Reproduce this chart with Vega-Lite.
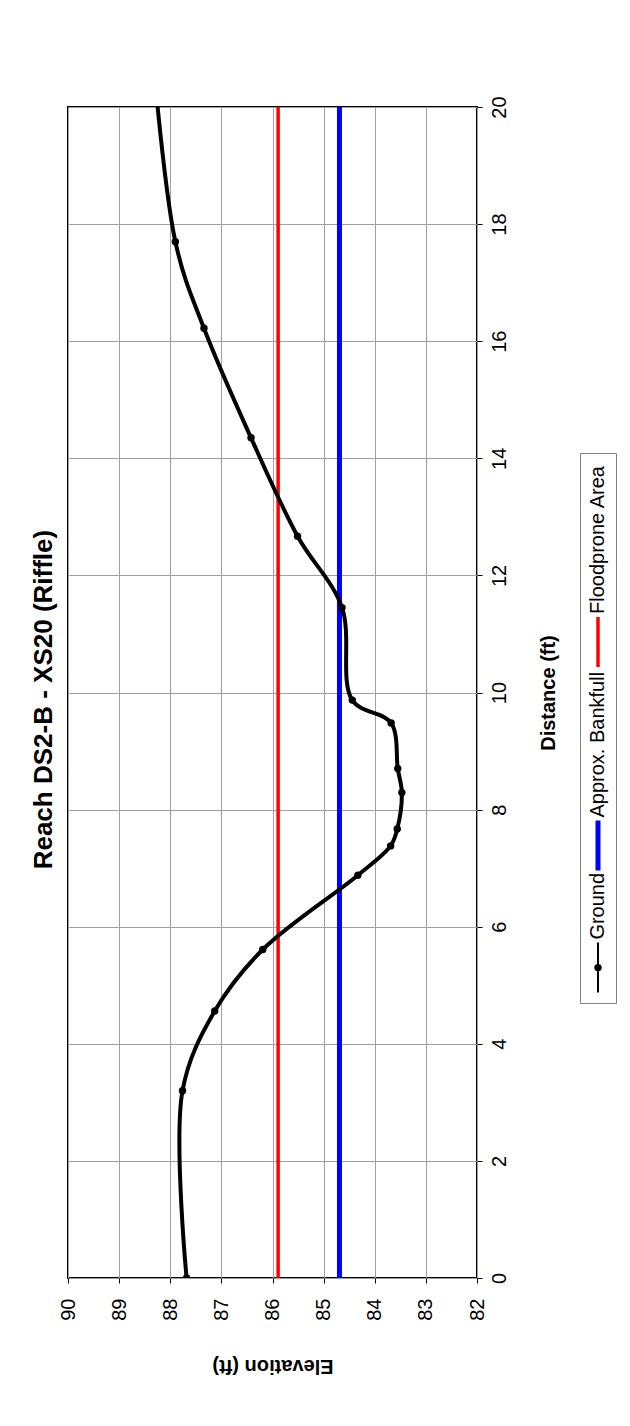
{
  "$schema": "https://vega.github.io/schema/vega-lite/v6.json",
  "background": "white",
  "autosize": {"type": "none"},
  "padding": {"left": 68, "top": 107, "right": 562, "bottom": 1319},
  "title": {"text": "Reach DS2-B - XS20 (Riffle)", "orient": "left", "anchor": "middle", "frame": "bounds", "fontSize": 26, "font": "Liberation Sans", "fontWeight": "bold", "color": "black", "offset": -26, "baseline": "bottom", "dx": 36},
  "config": {
    "font": "Liberation Sans",
    "axis": {"labelFont": "Liberation Sans", "labelFontSize": 20, "labelColor": "black", "titleFont": "Liberation Sans", "titleFontSize": 20, "titleFontWeight": "bold", "titleColor": "black", "gridColor": "#a0a0a0", "gridWidth": 1, "tickColor": "black", "tickSize": 5, "tickWidth": 1, "domain": false, "labelOverlap": false}
  },
  "datasets": {
    "ground": [
      {"dist": 0, "elev": 87.68},
      {"dist": 3.2, "elev": 87.76},
      {"dist": 4.56, "elev": 87.13},
      {"dist": 5.61, "elev": 86.19},
      {"dist": 6.88, "elev": 84.33},
      {"dist": 7.38, "elev": 83.69},
      {"dist": 7.67, "elev": 83.56},
      {"dist": 8.29, "elev": 83.47},
      {"dist": 8.7, "elev": 83.55},
      {"dist": 9.48, "elev": 83.68},
      {"dist": 9.87, "elev": 84.44},
      {"dist": 11.45, "elev": 84.64},
      {"dist": 12.67, "elev": 85.51},
      {"dist": 14.35, "elev": 86.42},
      {"dist": 16.22, "elev": 87.34},
      {"dist": 17.7, "elev": 87.9},
      {"dist": 22.5, "elev": 88.5}
    ],
    "levels": [
      {"series": "Approx. Bankfull", "elev": 84.69},
      {"series": "Floodprone Area", "elev": 85.89}
    ],
    "legend": [
      {"series": "Ground"},
      {"series": "Approx. Bankfull"},
      {"series": "Floodprone Area"}
    ]
  },
  "spacing": 20,
  "hconcat": [
    {
      "width": 409,
      "height": 1171,
      "view": {"stroke": "black", "strokeWidth": 2},
      "encoding": {
        "x": {"field": "elev", "type": "quantitative", "scale": {"domain": [82, 90], "reverse": true, "nice": false, "zero": false},
              "axis": {"orient": "bottom", "values": [82, 83, 84, 85, 86, 87, 88, 89, 90], "labelAngle": 270, "labelPadding": 15, "title": "Elevation (ft)", "titleAngle": 180, "titleBaseline": "bottom", "titlePadding": 35}}
      },
      "layer": [
        {
          "data": {"name": "levels"},
          "mark": {"type": "rule"},
          "encoding": {
            "color": {"field": "series", "type": "nominal", "scale": {"domain": ["Ground", "Approx. Bankfull", "Floodprone Area"], "range": ["black", "#0000ff", "#ff0000"]}, "legend": null},
            "strokeWidth": {"field": "series", "type": "nominal", "scale": {"domain": ["Approx. Bankfull", "Floodprone Area"], "range": [5, 2]}, "legend": null}
          }
        },
        {
          "data": {"name": "ground"},
          "mark": {"type": "line", "interpolate": "catmull-rom", "color": "black", "strokeWidth": 4, "clip": true},
          "encoding": {
            "y": {"field": "dist", "type": "quantitative", "scale": {"domain": [0, 20], "nice": false},
                  "axis": {"orient": "right", "values": [0, 2, 4, 6, 8, 10, 12, 14, 16, 18, 20], "format": "d", "labelAngle": 270, "labelPadding": 7, "title": "Distance (ft)", "titleAngle": 270, "titleBaseline": "top", "titlePadding": 29}},
            "order": {"field": "dist", "type": "quantitative"}
          }
        },
        {
          "data": {"name": "ground"},
          "mark": {"type": "point", "filled": true, "color": "black", "size": 55, "opacity": 1, "clip": true},
          "encoding": {
            "y": {"field": "dist", "type": "quantitative"}
          }
        }
      ]
    },
    {
      "spacing": 0,
      "vconcat": [
        {
          "width": 36,
          "height": 345,
          "view": {"stroke": null},
          "data": {"values": []},
          "mark": "point",
          "encoding": {}
        },
        {
          "width": 36,
          "height": 550,
          "view": {"stroke": "#808080", "strokeWidth": 1},
          "data": {"name": "legend"},
          "encoding": {
            "y": {"field": "series", "type": "nominal", "scale": {"type": "point", "domain": ["_a", "_b", "_c", "Floodprone Area", "_1", "_2", "_3", "_4", "Approx. Bankfull", "_5", "_6", "Ground", "_z"], "padding": 0.756, "align": 0.656}, "axis": null}
          },
          "layer": [
            {
              "mark": {"type": "point", "shape": "M0,-1L0,1", "filled": false, "size": 2500, "yOffset": 26.5, "opacity": 1},
              "encoding": {
                "stroke": {"field": "series", "type": "nominal", "scale": {"domain": ["Ground", "Approx. Bankfull", "Floodprone Area"], "range": ["black", "#0000ff", "#ff0000"]}, "legend": null},
                "strokeWidth": {"field": "series", "type": "nominal", "scale": {"domain": ["Ground", "Approx. Bankfull", "Floodprone Area"], "range": [4, 4, 2]}, "legend": null}
              }
            },
            {
              "transform": [{"filter": "datum.series === 'Ground'"}],
              "mark": {"type": "point", "filled": true, "color": "black", "size": 55, "opacity": 1, "yOffset": 26.5}
            },
            {
              "mark": {"type": "text", "angle": 270, "align": "left", "baseline": "middle", "fontSize": 20, "font": "Liberation Sans", "color": "black", "yOffset": -1.5},
              "encoding": {"text": {"field": "series", "type": "nominal"}}
            }
          ]
        }
      ]
    }
  ]
}
